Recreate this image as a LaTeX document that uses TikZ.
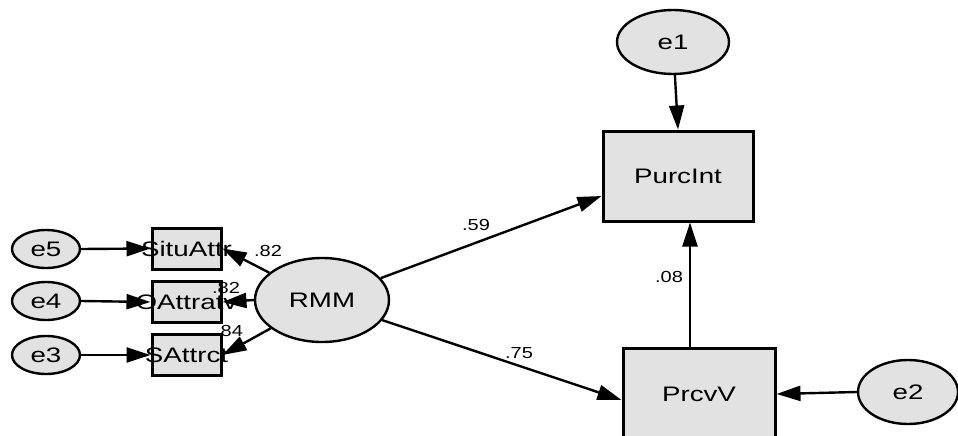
\documentclass[tikz,border=0pt]{standalone}
\usepackage{fontspec}
\setmainfont{Liberation Sans}
\usetikzlibrary{shapes.geometric,arrows.meta}
\definecolor{boxgray}{RGB}{226,226,226}
% horizontally stretched text that does not widen its node
\newcommand\hwide[2]{\makebox[0pt]{\scalebox{#1}[1]{#2}}}
\tikzset{
  latent/.style={ellipse, draw, line width=2.4pt, fill=boxgray, inner sep=0pt,
    font=\fontsize{21}{21}\selectfont},
  observed/.style={rectangle, draw, line width=3pt, fill=boxgray, inner sep=0pt,
    font=\fontsize{21}{21}\selectfont},
  regpath/.style={-{Triangle[length=24pt,width=15pt]}, line width=2.4pt},
  coef/.style={font=\fontsize{16}{16}\selectfont, inner sep=0pt}
}
\begin{document}
\begin{tikzpicture}[x=1pt,y=-1pt]
\clip (0,0) rectangle (958,436);
\fill[white] (0,0) rectangle (958,436);

% observed indicators of RMM
\node[observed, minimum width=69pt, minimum height=41pt] (situ) at (186.5,248.5) {\hwide{1.32}{SituAttr}};
\node[observed, minimum width=69pt, minimum height=41pt] (oattr) at (186.5,302) {\hwide{1.32}{OAttratv}};
\node[observed, minimum width=69pt, minimum height=41pt] (sattr) at (186.5,355) {\hwide{1.32}{SAttrct}};

% error terms of the indicators
\node[latent, minimum width=68pt, minimum height=38pt] (e5) at (46,249) {\hwide{1.32}{e5}};
\node[latent, minimum width=68pt, minimum height=38pt] (e4) at (46,301) {\hwide{1.32}{e4}};
\node[latent, minimum width=68pt, minimum height=38pt] (e3) at (46,355) {\hwide{1.32}{e3}};

% latent factor
\node[latent, minimum width=134pt, minimum height=84pt] (rmm) at (322,300) {\hwide{1.32}{RMM}};

% outcome variables
\node[observed, minimum width=150pt, minimum height=90pt] (purc) at (678,176) {\hwide{1.32}{PurcInt}};
\node[observed, minimum width=152pt, minimum height=92pt] (prcv) at (699,394) {\hwide{1.32}{PrcvV}};

% error terms of the outcomes
\node[latent, minimum width=112pt, minimum height=64pt] (e1) at (673,42) {\hwide{1.32}{e1}};
\node[latent, minimum width=100pt, minimum height=64pt] (e2) at (908,392) {\hwide{1.32}{e2}};

\coordinate (vx) at (690,0);

% paths
\draw[regpath] (e5.east) -- (situ.west);
\draw[regpath] (e4.east) -- (oattr.west);
\draw[regpath] (e3.east) -- (sattr.west);
\draw[regpath] (rmm) -- (situ.east);
\draw[regpath] (rmm.west) -- (oattr.east);
\draw[regpath] (rmm) -- (sattr.east);
\draw[regpath] (rmm) -- ([yshift=-20pt]purc.west);
\draw[regpath] (rmm) -- ([yshift=-6pt]prcv.west);
\draw[regpath] (prcv.north -| vx) -- (purc.south -| vx);
\draw[regpath] (e1) -- (purc.north);
\draw[regpath] (e2.west) -- (prcv.east);

% coefficients
\node[coef] (c1) at (268,251) {\hwide{1.25}{.82}};
\node[coef] (c2) at (226,288) {\hwide{1.25}{.82}};
\node[coef] (c3) at (229,331) {\hwide{1.25}{.84}};
\node[coef] (c4) at (476,225) {\hwide{1.25}{.59}};
\node[coef] (c5) at (519,353) {\hwide{1.25}{.75}};
\node[coef] (c6) at (669,277) {\hwide{1.25}{.08}};
\end{tikzpicture}
\end{document}
